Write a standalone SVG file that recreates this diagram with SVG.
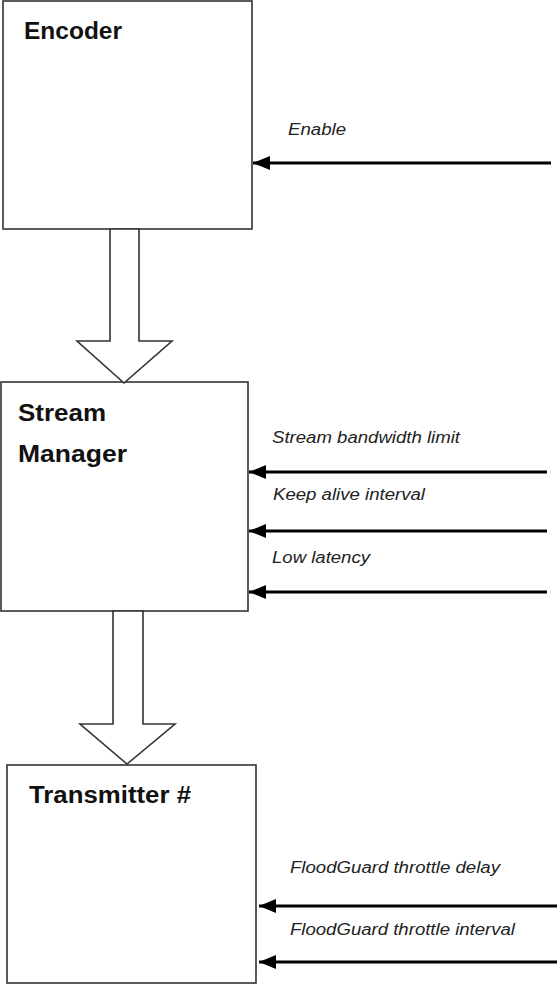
<svg xmlns="http://www.w3.org/2000/svg" width="557" height="994" viewBox="0 0 557 994">
<style>
.box{fill:#fff;stroke:#333;stroke-width:1.6}
.blk{fill:#fff;stroke:#333;stroke-width:1.6;stroke-linejoin:miter}
.title{font-family:"Liberation Sans",Arial,sans-serif;font-weight:bold;font-size:23px;fill:#111}
.lbl{font-family:"Liberation Sans",Arial,sans-serif;font-style:italic;font-size:16px;fill:#222}
.ar{stroke:#000;stroke-width:3;fill:none}
</style>
<defs>
<marker id="ah" markerUnits="userSpaceOnUse" markerWidth="18" markerHeight="14" refX="17" refY="7" orient="auto">
<path d="M17,7 L0,0 L0,14 Z" fill="#000"/>
</marker>
</defs>
<rect width="557" height="994" fill="#fff"/>
<g id="encoder">
<rect class="box" x="3" y="1" width="249" height="228"/>
<text class="title" x="24" y="39" textLength="98" lengthAdjust="spacingAndGlyphs">Encoder</text>
</g>
<g id="stream-manager">
<rect class="box" x="1" y="382" width="247" height="229"/>
<text class="title" x="18" y="421" textLength="88" lengthAdjust="spacingAndGlyphs">Stream</text>
<text class="title" x="18" y="462" textLength="109" lengthAdjust="spacingAndGlyphs">Manager</text>
</g>
<g id="transmitter">
<rect class="box" x="7" y="765" width="249" height="218"/>
<text class="title" x="29" y="803" textLength="162" lengthAdjust="spacingAndGlyphs">Transmitter #</text>
</g>
<g id="connectors">
<path class="blk" d="M110,229 L139,229 L139,341 L172,341 L124,383 L77,341 L110,341 Z"/>
<path class="blk" d="M113,611 L143,611 L143,724 L175,724 L127,764 L80,724 L113,724 Z"/>
<line class="ar" x1="551" y1="163" x2="253" y2="163" marker-end="url(#ah)"/>
<line class="ar" x1="547" y1="472" x2="249" y2="472" marker-end="url(#ah)"/>
<line class="ar" x1="547" y1="531" x2="249" y2="531" marker-end="url(#ah)"/>
<line class="ar" x1="547" y1="592" x2="249" y2="592" marker-end="url(#ah)"/>
<line class="ar" x1="557" y1="906" x2="259" y2="906" marker-end="url(#ah)"/>
<line class="ar" x1="557" y1="962" x2="259" y2="962" marker-end="url(#ah)"/>
</g>
<g id="labels">
<text class="lbl" x="288" y="135" textLength="58" lengthAdjust="spacingAndGlyphs">Enable</text>
<text class="lbl" x="272" y="443" textLength="188" lengthAdjust="spacingAndGlyphs">Stream bandwidth limit</text>
<text class="lbl" x="273" y="500" textLength="152" lengthAdjust="spacingAndGlyphs">Keep alive interval</text>
<text class="lbl" x="272" y="563" textLength="98" lengthAdjust="spacingAndGlyphs">Low latency</text>
<text class="lbl" x="290" y="873" textLength="210" lengthAdjust="spacingAndGlyphs">FloodGuard throttle delay</text>
<text class="lbl" x="290" y="935" textLength="225" lengthAdjust="spacingAndGlyphs">FloodGuard throttle interval</text>
</g>
</svg>
